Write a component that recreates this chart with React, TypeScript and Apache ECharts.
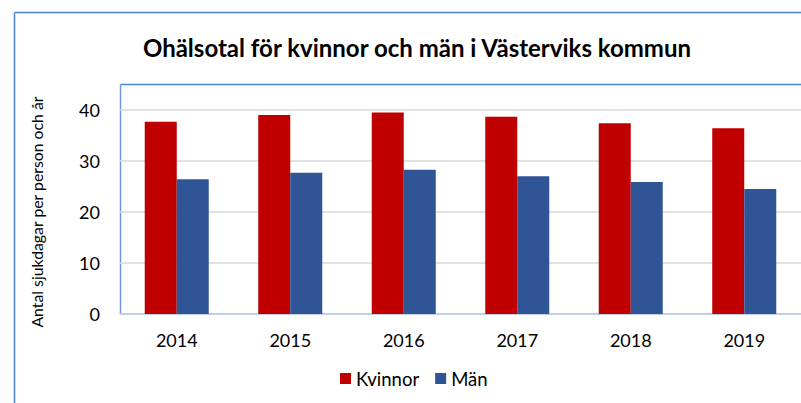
import React, { useEffect, useRef } from "react";
import * as echarts from "echarts";

const categories = ["2014", "2015", "2016", "2017", "2018", "2019"];
const kvinnor = [37.7, 39.0, 39.5, 38.7, 37.4, 36.4];
const man = [26.4, 27.7, 28.3, 27.0, 25.9, 24.5];
const yTicks = { min: 0, max: 40, interval: 10 };

const FONT = "Lato";

export default function App() {
  const ref = useRef<HTMLDivElement>(null);
  useEffect(() => {
    const chart = echarts.init(ref.current!, null, { renderer: "svg" });
    chart.setOption({
      animation: false,
      backgroundColor: "#ffffff",
      textStyle: { fontFamily: FONT },
      title: {
        text: "Ohälsotal för kvinnor och män i Västerviks kommun",
        left: 412,
        textAlign: "center",
        top: 30,
        textStyle: { fontFamily: FONT, fontSize: 24, fontWeight: "bold", color: "#000000" },
      },
      legend: {
        data: ["Kvinnor", "Män"],
        top: 369,
        left: 340,
        itemWidth: 11,
        itemHeight: 11,
        itemGap: 16,
        icon: "rect",
        textStyle: { fontFamily: FONT, fontSize: 18.5, color: "#000000" },
        padding: 0,
        selectedMode: false,
      },
      grid: { left: 120, right: -1, top: 110, bottom: 89, containLabel: false },
      xAxis: {
        type: "category",
        data: categories,
        axisTick: { show: false },
        axisLine: { lineStyle: { color: "#b4c7e7", width: 1.5 } },
        axisLabel: { fontFamily: FONT, fontSize: 18, color: "#000000", margin: 17 },
      },
      yAxis: {
        type: "value",
        min: yTicks.min,
        max: yTicks.max,
        interval: yTicks.interval,
        name: "Antal sjukdagar per person och år",
        nameLocation: "middle",
        nameGap: 76,
        nameTextStyle: { fontFamily: FONT, fontSize: 15.8, color: "#000000" },
        axisLine: { show: false },
        axisTick: { show: false },
        axisLabel: { fontFamily: FONT, fontSize: 18, color: "#000000", margin: 20 },
        splitLine: { lineStyle: { color: "#d9d9d9", width: 1.5 } },
      },
      series: [
        {
          name: "Kvinnor",
          type: "bar",
          data: kvinnor,
          barWidth: 32,
          barGap: "0%",
          itemStyle: { color: "#C00000" },
        },
        {
          name: "Män",
          type: "bar",
          data: man,
          barWidth: 32,
          barGap: "0%",
          itemStyle: { color: "#2F5597" },
        },
      ],
      graphic: [
        { type: "line", shape: { x1: 14.5, y1: 12.5, x2: 801, y2: 12.5 }, style: { stroke: "#4f81d9", lineWidth: 1.5 } },
        { type: "line", shape: { x1: 14.5, y1: 12.5, x2: 14.5, y2: 403 }, style: { stroke: "#4f81d9", lineWidth: 1.5 } },
        { type: "line", shape: { x1: 120.5, y1: 84.5, x2: 801, y2: 84.5 }, style: { stroke: "#4f81d9", lineWidth: 1.5 } },
        { type: "line", shape: { x1: 120.5, y1: 84.5, x2: 120.5, y2: 314 }, style: { stroke: "#6f97e0", lineWidth: 1.5 } },
      ],
    });
    return () => chart.dispose();
  }, []);
  return (
    <div
      ref={ref}
      style={{ position: "fixed", left: 0, top: 0, width: 801, height: 403 }}
    />
  );
}
